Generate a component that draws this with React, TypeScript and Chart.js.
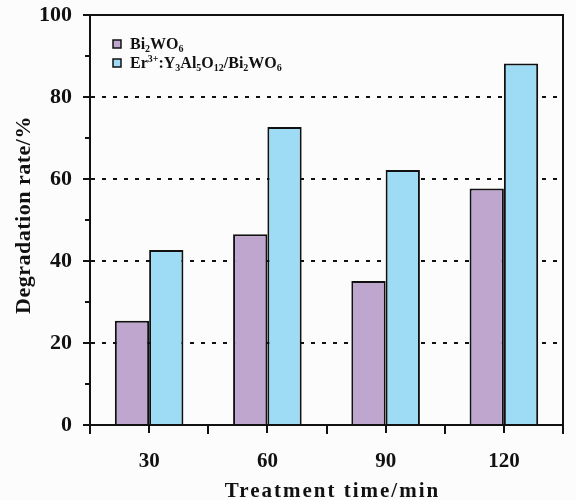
import { useEffect, useRef } from "react";
import { Chart, registerables } from "chart.js";

Chart.register(...registerables);

// Photocatalytic degradation rate vs. treatment time
const categories = ["30", "60", "90", "120"];
const bi2wo6 = [25.4, 46.5, 35.1, 57.7];
const erYagBi2wo6 = [42.7, 72.7, 62.2, 88.2];
const yMin = 0;
const yMax = 100;
const yStep = 20;
const xTitle = "Treatment time/min";
const yTitle = "Degradation rate/%";

type Seg = { t: string; k?: "sub" | "sup" };
const legendBi: Seg[] = [{ t: "Bi" }, { t: "2", k: "sub" }, { t: "WO" }, { t: "6", k: "sub" }];
const legendEr: Seg[] = [
  { t: "Er" }, { t: "3+", k: "sup" }, { t: ":Y" }, { t: "3", k: "sub" }, { t: "Al" },
  { t: "5", k: "sub" }, { t: "O" }, { t: "12", k: "sub" }, { t: "/Bi" }, { t: "2", k: "sub" },
  { t: "WO" }, { t: "6", k: "sub" },
];

const FONT = "'Liberation Serif', 'Times New Roman', serif";
const PURPLE = "#bfa6cf";
const BLUE = "#9edcf5";
const INK = "#111111";

function drawRich(ctx: CanvasRenderingContext2D, segs: Seg[], x: number, baseline: number, size: number) {
  let cx = x;
  for (const s of segs) {
    const fs = s.k ? Math.round(size * 0.62) : size;
    ctx.font = `bold ${fs}px ${FONT}`;
    const dy = s.k === "sub" ? size * 0.2 : s.k === "sup" ? -size * 0.38 : 0;
    ctx.fillText(s.t, cx, baseline + dy);
    cx += ctx.measureText(s.t).width;
  }
}

const decorations = {
  id: "decorations",
  beforeDraw(chart: any) {
    const { ctx, width, height } = chart;
    ctx.save();
    ctx.fillStyle = "#fcfcfc";
    ctx.fillRect(0, 0, width, height);
    ctx.restore();
  },
  afterDraw(chart: any) {
    const { ctx, chartArea: a } = chart;
    const xs = chart.scales.x;
    const ys = chart.scales.y;
    ctx.save();
    ctx.strokeStyle = INK;
    ctx.lineWidth = 2;
    ctx.strokeRect(a.left, a.top, a.right - a.left, a.bottom - a.top);

    // y-axis major and minor tick marks
    ctx.beginPath();
    for (let v = yMin; v <= yMax; v += yStep / 2) {
      const py = Math.round(ys.getPixelForValue(v));
      const len = v % yStep === 0 ? 7 : 5;
      ctx.moveTo(a.left - len, py);
      ctx.lineTo(a.left, py);
    }
    // x-axis ticks at category centres and at category boundaries
    const n = categories.length;
    for (let i = 0; i < n; i++) {
      const px = Math.round(xs.getPixelForValue(i));
      ctx.moveTo(px, a.bottom);
      ctx.lineTo(px, a.bottom + 8);
    }
    for (let i = 0; i <= n; i++) {
      const px = Math.round(a.left + (i * (a.right - a.left)) / n);
      ctx.moveTo(px, a.bottom);
      ctx.lineTo(px, a.bottom + 9);
    }
    ctx.stroke();

    // axis titles
    ctx.fillStyle = INK;
    ctx.textAlign = "center";
    ctx.textBaseline = "alphabetic";
    ctx.font = `bold 21px ${FONT}`;
    (ctx as any).letterSpacing = "2px";
    ctx.fillText(xTitle, (a.left + a.right) / 2 + 6, 497);
    ctx.font = `bold 22px ${FONT}`;
    (ctx as any).letterSpacing = "0.5px";
    ctx.translate(30, 215);
    ctx.rotate(-Math.PI / 2);
    ctx.fillText(yTitle, 0, 0);
    ctx.setTransform(1, 0, 0, 1, 0, 0);
    (ctx as any).letterSpacing = "0px";

    // legend
    const items: [Seg[], string][] = [
      [legendBi, PURPLE],
      [legendEr, BLUE],
    ];
    ctx.textAlign = "left";
    items.forEach(([segs, color], i) => {
      const top = 40 + i * 19;
      ctx.fillStyle = color;
      ctx.fillRect(a.left + 23, top, 8, 8);
      ctx.lineWidth = 1.5;
      ctx.strokeStyle = INK;
      ctx.strokeRect(a.left + 23, top, 8, 8);
      ctx.fillStyle = INK;
      drawRich(ctx, segs, a.left + 40, top + 9, 16);
    });
    ctx.restore();
  },
};

export default function App() {
  const ref = useRef<HTMLCanvasElement | null>(null);

  useEffect(() => {
    if (!ref.current) return;
    const chart = new Chart(ref.current, {
      type: "bar",
      data: {
        labels: categories,
        datasets: [
          {
            label: "Bi2WO6",
            data: bi2wo6,
            backgroundColor: PURPLE,
            borderColor: INK,
            borderWidth: 2,
            borderSkipped: "bottom",
          },
          {
            label: "Er3+:Y3Al5O12/Bi2WO6",
            data: erYagBi2wo6,
            backgroundColor: BLUE,
            borderColor: INK,
            borderWidth: 2,
            borderSkipped: "bottom",
          },
        ],
      },
      options: {
        animation: false,
        responsive: true,
        maintainAspectRatio: false,
        layout: { padding: { top: 15, right: 13, left: 0, bottom: 0 } },
        datasets: { bar: { categoryPercentage: 0.58, barPercentage: 1 } },
        plugins: {
          legend: { display: false },
          tooltip: { enabled: false },
        },
        scales: {
          x: {
            grid: { display: false, drawTicks: false },
            border: { display: true, color: INK, width: 2 },
            ticks: {
              color: INK,
              padding: 24,
              font: { family: FONT, size: 21, weight: "bold" },
            },
            afterFit: (s: any) => {
              s.height = 75;
              s.paddingLeft = 0;
              s.paddingRight = 0;
            },
          },
          y: {
            min: yMin,
            max: yMax,
            grid: {
              drawTicks: false,
              lineWidth: 2,
              color: (c: any) =>
                c.tick && (c.tick.value === yMin || c.tick.value === yMax) ? "rgba(0,0,0,0)" : INK,
            },
            border: { display: true, color: INK, width: 2, dash: [4, 7] },
            ticks: {
              stepSize: yStep,
              color: INK,
              padding: 18,
              font: { family: FONT, size: 22, weight: "bold" },
            },
            afterFit: (s: any) => {
              s.width = 90;
              s.paddingTop = 0;
              s.paddingBottom = 0;
            },
          },
        },
      },
      plugins: [decorations],
    });
    return () => chart.destroy();
  }, []);

  return (
    <div style={{ position: "fixed", left: 0, top: 0, width: 576, height: 500 }}>
      <canvas ref={ref} />
    </div>
  );
}
